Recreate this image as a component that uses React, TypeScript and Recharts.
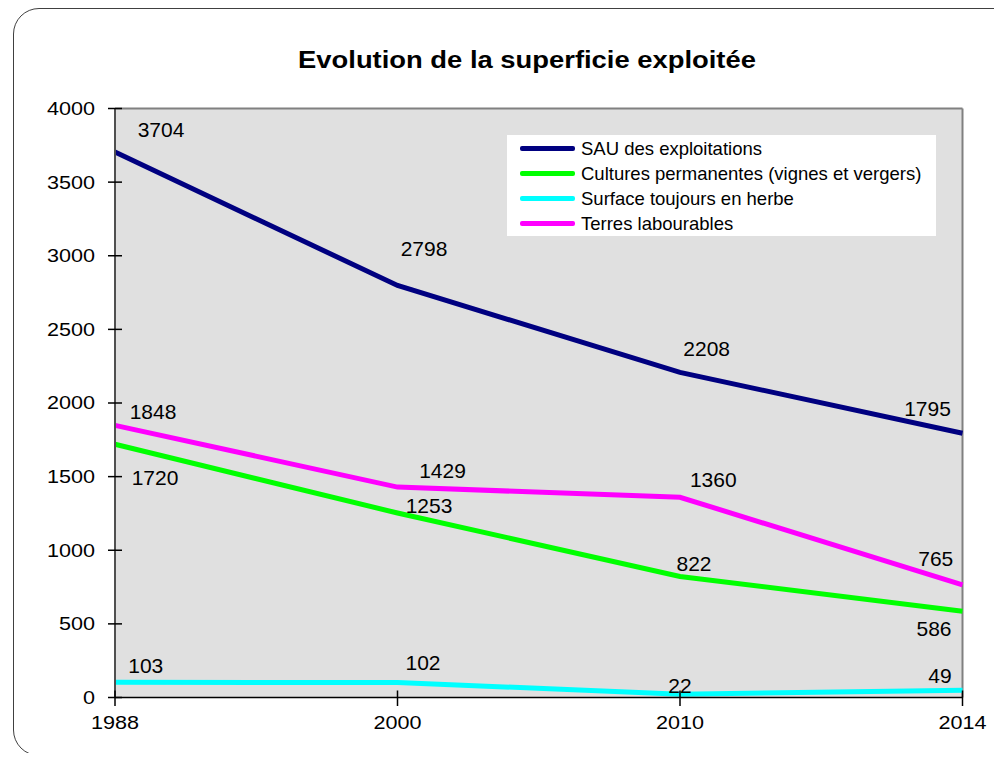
import React from 'react';
import { LineChart, Line, XAxis, YAxis, CartesianGrid, LabelList } from 'recharts';

// ---- data ----
const categories = ['1988', '2000', '2010', '2014'];
const sauValues = [3704, 2798, 2208, 1795];
const culturesValues = [1720, 1253, 822, 586];
const surfaceValues = [103, 102, 22, 49];
const terresValues = [1848, 1429, 1360, 765];
const yTicks = [0, 500, 1000, 1500, 2000, 2500, 3000, 3500, 4000];
const seriesNames = [
  'SAU des exploitations',
  'Cultures permanentes (vignes et vergers)',
  'Surface toujours en herbe',
  'Terres labourables',
];
const chartTitle = 'Evolution de la superficie exploitée';

// ---- label placement (style, not data) ----
const sauLabelOffsets = [[46, -22.6], [26.5, -36.5], [26.7, -23.4], [-35, -24.2]];
const culturesLabelOffsets = [[40, 32.8], [31.5, -7.2], [14, -12.5], [-28.5, 16.8]];
const surfaceLabelOffsets = [[30.8, -16.5], [25.5, -20], [0, -9], [-22.5, -14.5]];
const terresLabelOffsets = [[38, -13.7], [45, -16.3], [33.3, -18.2], [-26.7, -25.9]];

const series = [
  { key: 'sau', name: seriesNames[0], color: '#000080', values: sauValues, offsets: sauLabelOffsets },
  { key: 'cultures', name: seriesNames[1], color: '#00ff00', values: culturesValues, offsets: culturesLabelOffsets },
  { key: 'surface', name: seriesNames[2], color: '#00ffff', values: surfaceValues, offsets: surfaceLabelOffsets },
  { key: 'terres', name: seriesNames[3], color: '#ff00ff', values: terresValues, offsets: terresLabelOffsets },
];

const rows = categories.map((c, i) => {
  const r: any = { year: c };
  series.forEach((s) => { r[s.key] = s.values[i]; });
  return r;
});

// ---- layout ----
const FONT = '"Liberation Sans", Arial, Helvetica, sans-serif';
const CHART_W = 986;
const CHART_H = 745;
const Y_AXIS_W = 60;
const X_AXIS_H = 40;
const MARGIN = { top: 100.5, left: 47, right: 31.5, bottom: 15.5 };
const PLOT_LEFT = MARGIN.left + Y_AXIS_W;
const PLOT_BOTTOM = CHART_H - MARGIN.bottom - X_AXIS_H;

const YTick = (props: any) => {
  const { y, payload } = props;
  return (
    <g>
      <line x1={PLOT_LEFT - 7} x2={PLOT_LEFT + 7} y1={y} y2={y} stroke="#000" strokeWidth={1.5} />
      <text
        transform={`translate(${PLOT_LEFT - 20},${y + 6.4}) scale(1.2,1)`}
        textAnchor="end"
        fontSize={18}
        fontFamily={FONT}
        fill="#000"
      >
        {payload.value}
      </text>
    </g>
  );
};

const XTick = (props: any) => {
  const { x, payload } = props;
  return (
    <g>
      <line x1={x} x2={x} y1={PLOT_BOTTOM - 7} y2={PLOT_BOTTOM + 8.5} stroke="#000" strokeWidth={1.5} />
      <text
        transform={`translate(${x},${PLOT_BOTTOM + 31.5}) scale(1.2,1)`}
        textAnchor="middle"
        fontSize={18}
        fontFamily={FONT}
        fill="#000"
      >
        {payload.value}
      </text>
    </g>
  );
};

const makeLabel = (offsets: number[][]) => (props: any) => {
  const { x, y, value, index } = props;
  const off = offsets[index] || [0, -10];
  return (
    <text
      x={x + off[0]}
      y={y + off[1] + 7.5}
      textAnchor="middle"
      fontSize={21}
      fontFamily={FONT}
      fill="#000"
    >
      {value}
    </text>
  );
};

const drawOrder = ['surface', 'cultures', 'terres', 'sau'];

export default function App() {
  return (
    <div style={{ position: 'relative', width: 994, height: 753, marginBottom: -8, overflow: 'hidden', background: '#fff' }}>
      <div
        style={{
          position: 'absolute',
          left: 5,
          top: 0,
          width: 1100,
          height: 748,
          border: '1px solid #404040',
          borderRadius: 26,
          boxSizing: 'border-box',
        }}
      />
      <div
        style={{
          position: 'absolute',
          left: 518.5,
          top: 40.5,
          whiteSpace: 'nowrap',
          fontFamily: FONT,
          fontWeight: 'bold',
          fontSize: 23,
          lineHeight: '23px',
          transform: 'translateX(-50%) scaleX(1.19)',
          color: '#000',
        }}
      >
        {chartTitle}
      </div>
      <div style={{ position: 'absolute', left: 0, top: 0 }}>
        <LineChart width={CHART_W} height={CHART_H} data={rows} margin={MARGIN}>
          <CartesianGrid
            fill="#e0e0e0"
            stroke="#808080"
            strokeWidth={2}
            horizontalCoordinatesGenerator={(p: any) => [p.offset.top]}
            verticalCoordinatesGenerator={(p: any) => [p.offset.left + p.offset.width]}
          />
          <XAxis
            dataKey="year"
            height={X_AXIS_H}
            tickLine={false}
            axisLine={{ stroke: '#000', strokeWidth: 1.5 }}
            tick={<XTick />}
            interval={0}
          />
          <YAxis
            width={Y_AXIS_W}
            domain={[0, 4000]}
            ticks={yTicks}
            tickLine={false}
            axisLine={{ stroke: '#505050', strokeWidth: 2 }}
            tick={<YTick />}
            interval={0}
          />
          {drawOrder.map((k) => {
            const s = series.find((q) => q.key === k)!;
            return (
              <Line
                key={s.key}
                type="linear"
                dataKey={s.key}
                name={s.name}
                stroke={s.color}
                strokeWidth={5}
                dot={false}
                activeDot={false}
                isAnimationActive={false}
              >
                <LabelList dataKey={s.key} content={makeLabel(s.offsets)} />
              </Line>
            );
          })}
        </LineChart>
      </div>
      <div
        style={{
          position: 'absolute',
          left: 499,
          top: 127,
          width: 429,
          height: 101,
          background: '#fff',
          boxSizing: 'border-box',
          paddingTop: 1,
        }}
      >
        {series.map((s, i) => (
          <div
            key={s.key}
            style={{
              position: 'absolute',
              left: 0,
              top: 13.3 + i * 25.2 - 12.5,
              height: 25,
              display: 'flex',
              alignItems: 'center',
              whiteSpace: 'nowrap',
            }}
          >
            <div style={{ marginLeft: 13, width: 55, height: 5, background: s.color, borderRadius: 2 }} />
            <span style={{ marginLeft: 6, fontFamily: FONT, fontSize: 18.5, color: '#000', lineHeight: '25px' }}>
              {s.name}
            </span>
          </div>
        ))}
      </div>
    </div>
  );
}
